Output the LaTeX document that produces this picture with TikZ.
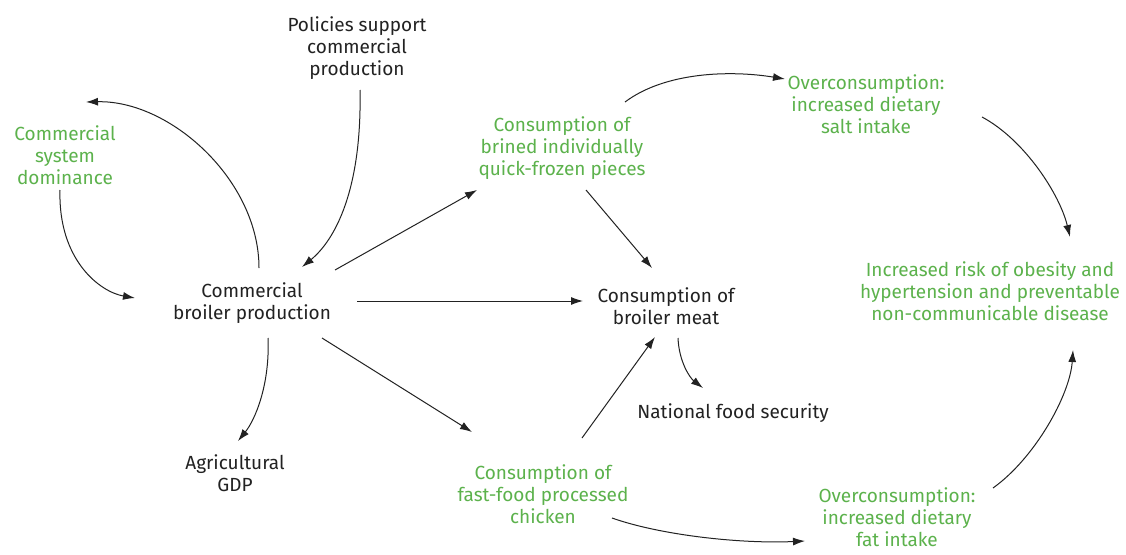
\documentclass[tikz,border=0pt]{standalone}
\usepackage{fontspec}
\setmainfont{Fira Sans}
\usetikzlibrary{arrows.meta}
\definecolor{leafgreen}{RGB}{92,178,76}
\definecolor{ink}{RGB}{34,34,34}
\begin{document}
\begin{tikzpicture}[x=1pt,y=-1pt,
  lbl/.style={align=center,inner sep=0pt,font=\fontsize{19}{22}\selectfont},
  blk/.style={lbl,text=ink},
  grn/.style={lbl,text=leafgreen},
  link/.style={-{Latex[length=12pt,width=8pt]},line width=1pt,draw=ink}]
\useasboundingbox[fill=white] (0,0) rectangle (1126,554);

% factors
\node[blk] (pol)  at (357,48)  {Policies support\\commercial\\production};
\node[grn] (dom)  at (65,155)  {Commercial\\system\\dominance};
\node[blk] (cbp)  at (252,303) {Commercial\\broiler production};
\node[grn] (bri)  at (562,148) {Consumption of\\brined individually\\quick-frozen pieces};
\node[grn] (salt) at (866,104) {Overconsumption:\\increased dietary\\salt intake};
\node[blk] (bm)   at (666,306) {Consumption of\\broiler meat};
\node[blk] (nfs)  at (733,413) {National food security};
\node[grn] (risk) at (990,291) {Increased risk of obesity and\\hypertension and preventable\\non-communicable disease};
\node[blk] (gdp)  at (235,473) {Agricultural\\GDP};
\node[grn] (ff)   at (543,494) {Consumption of\\fast-food processed\\chicken};
\node[grn] (fat)  at (897,517) {Overconsumption:\\increased dietary\\fat intake};

% causal links
\draw[link] ([shift={(7,-35)}]cbp.center) .. controls +(0,-88) and +(84,-2) .. ([shift={(21,-53)}]dom.center);
\draw[link] ([shift={(-5,35)}]dom.center) .. controls +(-2,70) and +(-35,-6) .. ([shift={(-117,-5)}]cbp.center);
\draw[link] ([shift={(3,42)}]pol.center) .. controls +(2,100) and +(33,-27) .. ([shift={(50,-36)}]cbp.center);
\draw[link] ([shift={(83,-33)}]cbp.center) -- ([shift={(-85,42)}]bri.center);
\draw[link] ([shift={(105,-2)}]cbp.center) -- ([shift={(-83,-5)}]bm.center);
\draw[link] ([shift={(70,35)}]cbp.center) -- ([shift={(-71,-62)}]ff.center);
\draw[link] ([shift={(16,35)}]cbp.center) .. controls +(2,47) and +(17,-21) .. ([shift={(3,-32)}]gdp.center);
\draw[link] ([shift={(24,42)}]bri.center) -- ([shift={(-14,-38)}]bm.center);
\draw[link] ([shift={(63,-46)}]bri.center) .. controls +(40,-30) and +(-55,-9) .. ([shift={(-81,-25)}]salt.center);
\draw[link] ([shift={(39,-56)}]ff.center) -- ([shift={(-11,31)}]bm.center);
\draw[link] ([shift={(12,32)}]bm.center) .. controls +(1,24) and +(-13,-10) .. ([shift={(-30,-25)}]nfs.center);
\draw[link] ([shift={(116,13)}]salt.center) .. controls +(43,23) and +(-10,-42) .. ([shift={(80,-54)}]risk.center);
\draw[link] ([shift={(69,24)}]ff.center) .. controls +(48,17) and +(-65,3) .. ([shift={(-92,24)}]fat.center);
\draw[link] ([shift={(96,-29)}]fat.center) .. controls +(42,-30) and +(-3,45) .. ([shift={(83,59)}]risk.center);
\end{tikzpicture}
\end{document}
